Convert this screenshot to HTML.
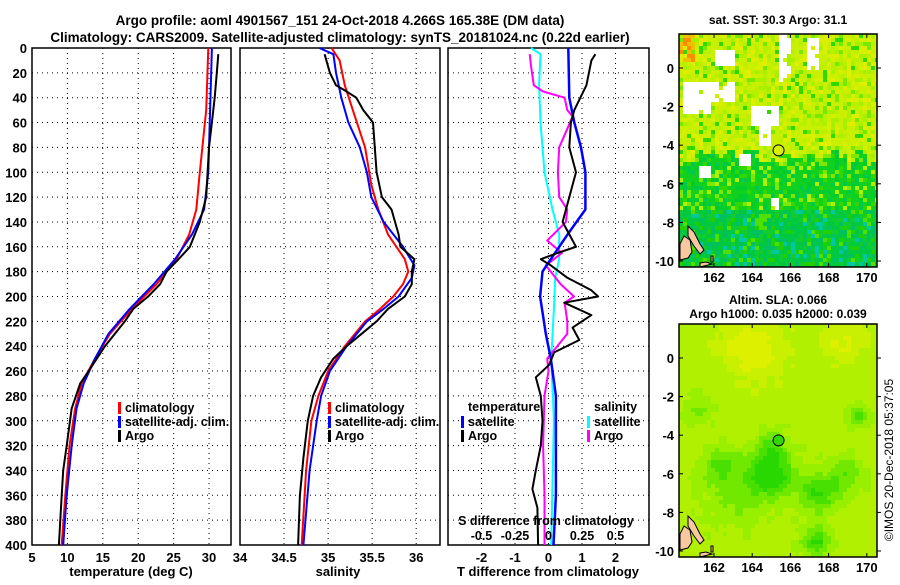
<!DOCTYPE html>
<html><head><meta charset="utf-8"><style>
body{margin:0;background:#fff;width:900px;height:580px;overflow:hidden;font-family:"Liberation Sans",sans-serif;}
svg text{font-family:"Liberation Sans",sans-serif;font-weight:bold;fill:#000;}
</style></head><body>
<svg id="chart" width="900" height="580" viewBox="0 0 900 580" xmlns="http://www.w3.org/2000/svg">
<text x="340" y="25" font-size="13.5" text-anchor="middle">Argo profile: aoml 4901567_151 24-Oct-2018 4.266S 165.38E (DM data)</text>
<text x="340" y="42" font-size="13.5" text-anchor="middle">Climatology: CARS2009. Satellite-adjusted climatology: synTS_20181024.nc (0.22d earlier)</text>
<g id="plots"></g>
<text x="778" y="24" font-size="12" text-anchor="middle">sat. SST: 30.3 Argo: 31.1</text>
<text x="778" y="304" font-size="12" text-anchor="middle">Altim. SLA: 0.066</text>
<text x="778" y="318" font-size="12" text-anchor="middle">Argo h1000: 0.035 h2000: 0.039</text>
<g id="maps"></g>
<text x="0" y="0" font-size="12" style="font-weight:normal" text-anchor="middle" transform="translate(893,460) rotate(-90)">©IMOS 20-Dec-2018 05:37:05</text>
</svg>
<script>
// ---- data ----
const depthTicks = [0,20,40,60,80,100,120,140,160,180,200,220,240,260,280,300,320,340,360,380,400];
const tempTicks = [5,10,15,20,25,30];
const salTicks = [34,34.5,35,35.5,36];
const salTickLabels = ["34","34.5","35","35.5","36"];
const tdiffTicks = [-2,-1,0,1,2];
const sdiffTicks = [-0.5,-0.25,0,0.25,0.5];
const sdiffTickLabels = ["-0.5","-0.25","0","0.25","0.5"];

const tClimDepth = [0,50,100,130,150,170,190,210,230,250,270,290,320,360,400];
const tClimVal   = [29.9,29.6,28.7,28.2,27.2,25.4,22.6,19.1,16.0,13.9,12.0,11.1,10.3,9.7,9.2];
const tSatDepth  = [0,100,130,150,170,190,210,230,250,270,290,320,360,400];
const tSatVal    = [30.4,29.9,29.3,27.6,25.2,22.2,18.8,15.8,13.9,12.3,11.3,10.6,9.9,9.4];
const tArgoDepth = [5,20,40,60,80,100,120,140,160,170,180,190,200,210,220,230,240,260,270,290,320,340,360,400];
const tArgoVal   = [31.3,31.1,30.8,30.4,30.0,29.8,29.6,28.7,27.3,25.7,24.0,23.1,21.4,19.3,18.1,16.7,15.3,13.0,11.8,10.6,9.9,9.4,9.2,8.8];

const sClimDepth = [0,10,30,50,80,110,130,150,170,180,190,200,210,220,240,260,280,300,340,400];
const sClimVal   = [35.04,35.13,35.19,35.28,35.42,35.49,35.57,35.68,35.87,35.91,35.85,35.74,35.59,35.42,35.19,35.0,34.89,34.81,34.75,34.70];
const sSatDepth  = [0,5,20,40,60,80,100,120,140,160,175,185,200,210,220,240,260,280,300,340,400];
const sSatVal    = [34.9,35.06,35.09,35.15,35.23,35.36,35.44,35.49,35.63,35.85,35.98,35.95,35.80,35.63,35.44,35.21,35.02,34.92,34.87,34.79,34.72];
const sArgoDepth = [5,20,30,35,40,50,60,80,100,120,130,150,160,170,180,190,200,210,220,230,240,250,265,280,300,330,360,400];
const sArgoVal   = [34.96,35.02,35.09,35.21,35.32,35.40,35.51,35.53,35.55,35.61,35.72,35.80,35.82,35.98,35.95,35.95,35.87,35.68,35.55,35.38,35.21,35.06,34.92,34.83,34.77,34.72,34.68,34.66];

const dtSatDepth  = [0,40,60,80,100,130,150,170,180,200,230,250,280,320,360,400];
const dtSatVal    = [0.59,0.62,0.77,0.97,1.1,1.1,0.57,0.07,-0.18,-0.25,-0.08,0.07,0.22,0.22,0.22,0.15];
const dtArgoDepth = [5,10,30,50,60,80,100,120,140,150,160,165,170,175,185,195,200,205,215,225,235,245,255,265,280,300,320,340,355,370,400];
const dtArgoVal   = [1.4,1.28,1.13,0.77,0.67,0.62,0.82,0.62,0.42,0.62,0.82,0.27,-0.23,0.07,0.57,1.28,1.48,0.47,1.28,0.72,0.92,0.17,0.02,-0.38,-0.23,-0.18,-0.23,-0.38,-0.48,-0.33,-0.31];
const dsSatDepth  = [0,5,30,60,100,130,150,170,185,210,250,300,350,400];
const dsSatVal    = [-0.13,-0.06,-0.07,-0.06,-0.03,0.03,0.08,0.08,0.05,0.04,0.02,0.04,0.03,0.02];
const dsArgoDepth = [5,15,30,35,40,50,55,65,80,100,120,130,140,155,165,175,190,200,205,220,230,250,260,280,320,360,400];
const dsArgoVal   = [-0.14,-0.13,-0.11,-0.04,0.12,0.14,0.18,0.14,0.08,0.07,0.08,0.14,0.13,-0.01,0.1,-0.02,0.09,0.19,0.12,0.14,0.14,-0.01,0.0,-0.03,-0.04,-0.03,-0.03];

// ---- helpers ----
const NS="http://www.w3.org/2000/svg";
const plots=document.getElementById('plots');
function mk(tag,attrs,parent){const e=document.createElementNS(NS,tag);for(const k in attrs)e.setAttribute(k,attrs[k]);(parent||plots).appendChild(e);return e;}
const TOP=48,BOT=545;
function yD(d){return TOP+d*(BOT-TOP)/400;}
function lin(d0,d1,r0,r1){return v=>r0+(v-d0)*(r1-r0)/(d1-d0);}
const xT=lin(5,33.1,32,231), xS=lin(34,36.27,240,440), xDT=lin(-3,3,448,649), xDS=lin(-0.75,0.75,448,649);

function panel(name,x0,x1,xticks,xfn,labels,showY){
  const g=mk('g',{});
  
  
  depthTicks.forEach(d=>{
    if(d>0&&d<400){const l=mk('line',{x1:x0,x2:x1,y1:yD(d),y2:yD(d),stroke:'#000','stroke-width':1,'stroke-dasharray':'1,4'},g);
    }
    if(showY){const t=mk('text',{x:x0-5,y:yD(d)+5,'font-size':13,'text-anchor':'end'},g);t.textContent=d;
    }
  });
  xticks.forEach((v,i)=>{
    const x=xfn(v);
    if(x>x0+1&&x<x1-1){const l=mk('line',{x1:x,x2:x,y1:TOP,y2:BOT,stroke:'#000','stroke-width':1,'stroke-dasharray':'1,4'},g);
    }
    if(labels){const t=mk('text',{x:x,y:562,'font-size':13,'text-anchor':'middle'},g);t.textContent=labels[i];
    }
  });
  const r=mk('rect',{x:x0,y:TOP,width:x1-x0,height:BOT-TOP,fill:'none',stroke:'#000','stroke-width':1.5},g);
  
  return g;
}
function series(name,depths,vals,xfn,color,w){
  const pts=depths.map((d,i)=>xfn(vals[i]).toFixed(1)+','+yD(d).toFixed(1)).join(' ');
  const p=mk('polyline',{points:pts,fill:'none',stroke:color,'stroke-width':w||2,'stroke-linejoin':'round'});
  
  
}
function txt(name,x,y,s,anchor,size){const t=mk('text',{x:x,y:y,'font-size':size||12.5,'text-anchor':anchor||'start'});t.textContent=s;
  return t;}
function legend(name,x,y,color,label){
  const g=mk('g',{});
  
  
  mk('rect',{x:x,y:y-10,width:3,height:12,fill:color},g);
  const t=mk('text',{x:x+7,y:y,'font-size':12.5},g);t.textContent=label;
}

panel('temperature-panel',32,231,tempTicks,xT,tempTicks.map(String),true);
panel('salinity-panel',240,440,salTicks,xS,salTickLabels,false);
panel('difference-panel',448,649,tdiffTicks,xDT,tdiffTicks.map(String),false);

series('temp-climatology-line',tClimDepth,tClimVal,xT,'#ff0000');
series('temp-satellite-line',tSatDepth,tSatVal,xT,'#0000ff');
series('temp-argo-line',tArgoDepth,tArgoVal,xT,'#000000');
series('sal-climatology-line',sClimDepth,sClimVal,xS,'#ff0000');
series('sal-satellite-line',sSatDepth,sSatVal,xS,'#0000ff');
series('sal-argo-line',sArgoDepth,sArgoVal,xS,'#000000');
series('sdiff-satellite-line',dsSatDepth,dsSatVal,xDS,'#00ffff');
series('sdiff-argo-line',dsArgoDepth,dsArgoVal,xDS,'#ff00ff');
series('tdiff-satellite-line',dtSatDepth,dtSatVal,xDT,'#0000ff',2.5);
series('tdiff-argo-line',dtArgoDepth,dtArgoVal,xDT,'#000000');

txt('temperature-axis-title',131,576,'temperature (deg C)','middle',13);
txt('salinity-axis-title',338,576,'salinity','middle',13);
txt('tdiff-axis-title',548,576,'T difference from climatology','middle',13);
txt('sdiff-axis-title',546,525,'S difference from climatology','middle',12.5);
sdiffTicks.forEach((v,i)=>txt('sdiff-tick-label',xDS(v),540,sdiffTickLabels[i],'middle',12.5));

legend('legend-temp-climatology',118,412,'#ff0000','climatology');
legend('legend-temp-satellite',118,426,'#0000ff','satellite-adj. clim.');
legend('legend-temp-argo',118,440,'#000000','Argo');
legend('legend-sal-climatology',328,412,'#ff0000','climatology');
legend('legend-sal-satellite',328,426,'#0000ff','satellite-adj. clim.');
legend('legend-sal-argo',328,440,'#000000','Argo');
txt('legend-temperature-heading',468,411,'temperature','start',12.5);
legend('legend-tdiff-satellite',461,426,'#0000ff','satellite');
legend('legend-tdiff-argo',461,440,'#000000','Argo');
txt('legend-salinity-heading',594,411,'salinity','start',12.5);
legend('legend-sdiff-satellite',587,426,'#00ffff','satellite');
legend('legend-sdiff-argo',587,440,'#ff00ff','Argo');

// ---- maps ----
const maps=document.getElementById('maps');
const lonTicks=[162,164,166,168,170];
const latTicks=[0,-2,-4,-6,-8,-10];
function hash(i,j,s){let h=(i*374761393+j*668265263+s*982451653)|0;h=(h^(h>>>13))*1274126177|0;return ((h^(h>>>16))>>>0)/4294967296;}
function drawMap(name,y0,cellColor,dot){
  const X0=679,X1=877,Y1=y0+233;
  const g=mk('g',{},maps);
  
  
  const lonX=lon=>714+(lon-162)*19.1, latY=lat=>y0+34+(-lat)*19.3;
  const cs=4;
  for(let j=0;j*cs<Y1-y0;j++){for(let i=0;i*cs<X1-X0;i++){
    const lon=162+(X0+i*cs+2-714)/19.1, lat=-(j*cs+2-34)/19.3;
    const c=cellColor(lon,lat,i,j); if(!c)continue;
    mk('rect',{x:X0+i*cs,y:y0+j*cs,width:Math.min(cs,X1-X0-i*cs),height:Math.min(cs,Y1-y0-j*cs),fill:c},g);
  }}
  const land=[[[680,244],[684,236],[690,240],[692,252],[688,258],[680,260]],[[688,226],[694,232],[700,244],[704,250],[700,254],[694,246],[688,236]],[[700,263],[706,262],[712,264],[700,267]],[[711,256],[713,256],[713,262],[711,262]]];
  land.forEach(poly=>{const p=mk('polygon',{points:poly.map(q=>q[0]+','+(q[1]+y0-34)).join(' '),fill:'#f8c8a0',stroke:'#000','stroke-width':1},g);
    });
  const c=mk('circle',{cx:lonX(165.38),cy:latY(-4.266),r:5.5,fill:dot,stroke:'#000','stroke-width':1},g);
  
  const r=mk('rect',{x:X0,y:y0,width:X1-X0,height:Y1-y0,fill:'none',stroke:'#000','stroke-width':1.5},g);
  
  lonTicks.forEach(l=>{const x=lonX(l);mk('line',{x1:x,x2:x,y1:y0,y2:y0+4,stroke:'#000'},g);mk('line',{x1:x,x2:x,y1:Y1,y2:Y1-4,stroke:'#000'},g);
    const t=mk('text',{x:x,y:Y1+15,'font-size':13,'text-anchor':'middle'},g);t.textContent=l;
    });
  latTicks.forEach(l=>{const y=latY(l);mk('line',{x1:X0,x2:X0+4,y1:y,y2:y,stroke:'#000'},g);mk('line',{x1:X1,x2:X1+4,y1:y,y2:y,stroke:'#000'},g);
    const t=mk('text',{x:X0-5,y:y+5,'font-size':13,'text-anchor':'end'},g);t.textContent=l;
    });
}
// [lonMin, lonMax, latMax, latMin]
const whiteBoxes=[[160.3,163,-0.7,-1.7],[160.3,161.8,-1.7,-2.4],[163.9,165.5,-1.9,-3.0],[164.3,164.9,-3.0,-4.0],[165.4,166.1,1.8,-0.8],[166.9,167.4,1.5,-0.2],[162.1,163.0,0.9,0.1],[163.4,163.9,-4.4,-5.0],[161.2,161.8,-5.0,-5.6],[165.0,165.4,-6.7,-7.4]];
drawMap('sst-map',34,(lon,lat,i,j)=>{
  const h=hash(i,j,1);
  for(const b of whiteBoxes){if(lon>b[0]&&lon<b[1]&&lat<b[2]&&lat>b[3]&&hash(i,j,9)<0.92)return null;}
  if(lon<161&&lat>0.3&&h<0.7)return h<0.3?'#ff8c00':'#f0c000';
  const edge=-4.9+hash(i>>1,0,3)*0.8;
  if(lat>edge){const c=['#c8f000','#b8f000','#d8f000','#a8f000','#e2ee00','#78e800','#30d800'];return c[Math.floor(h*h*7)];}
  if(lat>-7.3){const c=['#10d020','#00cc30','#30d800','#00c848','#80e800','#b0f000'];return c[Math.floor(h*h*6)];}
  const c=['#00c840','#10cc30','#00c060','#20d000','#00c8a0','#50e000'];return c[Math.floor(h*h*6)];
},'#d8f000');
const blobs=[[164.9,-6.0,1.2,1],[167.5,-7,1,0.75],[167.4,-9.5,0.8,0.7],[162.3,-5.6,1.0,0.55],[169.6,-3,0.6,0.5],[165.0,-4.5,0.8,0.4],[161.2,-2.7,0.8,0.35],[169,-6,1,0.4],[163,-7.5,1.5,0.3],[164,0.5,1.5,-0.5],[168.8,0.8,1.0,-0.35]];
drawMap('sla-map',324,(lon,lat,i,j)=>{
  let v=0;
  blobs.forEach(b=>{const d2=((lon-b[0])**2+(lat-b[1])**2)/(b[2]*b[2]);v+=b[3]*Math.exp(-d2);});
  v+=(hash(i>>1,j>>1,7)-0.5)*0.15;
  const c=['#dcf000','#c8f000','#b0f000','#98f000','#70e800','#48e000','#28d800'];
  return c[Math.max(0,Math.min(6,Math.round(v*5+2)))];
},'#30d800');
</script>
</body></html>
